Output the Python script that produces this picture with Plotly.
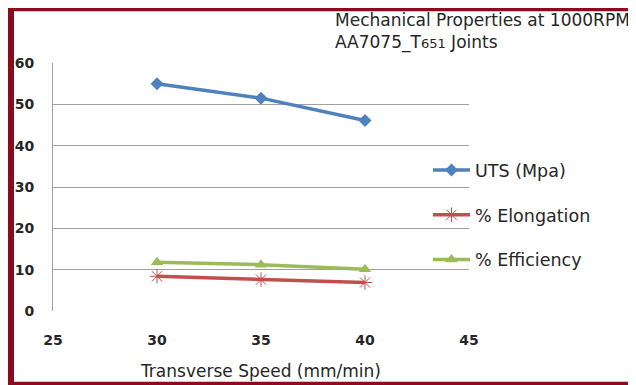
import plotly.graph_objects as go

speeds = [30, 35, 40]
uts = [55.0, 51.5, 46.1]
elongation = [8.4, 7.6, 6.9]
efficiency = [11.8, 11.2, 10.1]
x_ticks = [25, 30, 35, 40, 45]
y_ticks = [0, 10, 20, 30, 40, 50, 60]

W, H = 636, 385
OFF = 8  # page body margin offset
# plot area in screen pixels: x 53..469, y 62.7..310.7
L = 53 - OFF
T = 63 - OFF
R = W - (469 - OFF)
B = H - (310.7 - OFF)
pw, ph = W - L - R, H - T - B

def px(sx):
    return (sx - OFF - L) / pw

def py(sy):
    return (H - B - (sy - OFF)) / ph

FONT = "DejaVu Sans"
TXT = "#262626"
fig = go.Figure()
fig.add_trace(go.Scatter(x=speeds, y=uts, name="UTS (Mpa)", mode="lines+markers",
                         line=dict(color="#4F81BD", width=3.5),
                         marker=dict(symbol="diamond", size=10, color="#4F81BD"),
                         legendgroup="a"))
fig.add_trace(go.Scatter(x=speeds, y=elongation, name="% Elongation", mode="lines+markers",
                         line=dict(color="#C0504D", width=3.5),
                         marker=dict(symbol="asterisk-open", size=12, color="#C0504D",
                                     line=dict(color="#C0504D", width=1)),
                         legendgroup="b"))
fig.add_trace(go.Scatter(x=speeds, y=efficiency, name="% Efficiency", mode="lines+markers",
                         line=dict(color="#9BBB59", width=3.5),
                         marker=dict(symbol="triangle-up", size=11, color="#9BBB59"),
                         legendgroup="c"))

border = "#8C0A1E"
shapes = [
    dict(type="line", xref="paper", yref="paper", x0=px(8), x1=px(636), y0=py(9.5), y1=py(9.5),
         line=dict(color=border, width=3.5)),
    dict(type="line", xref="paper", yref="paper", x0=px(8), x1=px(636), y0=py(383), y1=py(383),
         line=dict(color=border, width=3.5)),
    dict(type="line", xref="paper", yref="paper", x0=px(11), x1=px(11), y0=py(8), y1=py(385),
         line=dict(color=border, width=6)),
]

fig.update_layout(
    width=W, height=H,
    margin=dict(l=L, r=R, t=T, b=B, autoexpand=False),
    paper_bgcolor="white", plot_bgcolor="white",
    font=dict(family=FONT, color=TXT),
    shapes=shapes,
    showlegend=True,
    legend=dict(x=px(428), y=py(152), xanchor="left", yanchor="top",
                font=dict(family=FONT, size=17.5, color=TXT),
                tracegroupgap=19, itemwidth=37, bgcolor="rgba(0,0,0,0)"),
    annotations=[
        dict(xref="paper", yref="paper", x=px(333), y=py(8.5), xanchor="left", yanchor="top",
             align="left", showarrow=False,
             text="Mechanical Properties at 1000RPM<br>AA7075_T<span style='font-size:13px'>651</span> Joints",
             font=dict(family=FONT, size=17, color=TXT)),
    ],
    xaxis=dict(range=[25, 45], tickvals=x_ticks, showgrid=False, zeroline=False,
               showline=False, ticks="", ticklabelstandoff=19,
               tickfont=dict(family=FONT, size=14, color=TXT, weight="bold"),
               title=dict(text="Transverse Speed (mm/min)", standoff=18,
                          font=dict(family=FONT, size=17, color=TXT))),
    yaxis=dict(range=[0, 60], tickvals=y_ticks, showgrid=True, gridcolor="#A0A0A0", gridwidth=1,
               zeroline=False, showline=True, linecolor="#A0A0A0", linewidth=1, ticks="",
               ticklabelstandoff=15,
               tickfont=dict(family=FONT, size=14, color=TXT, weight="bold")),
)

fig.write_html("out.html")
